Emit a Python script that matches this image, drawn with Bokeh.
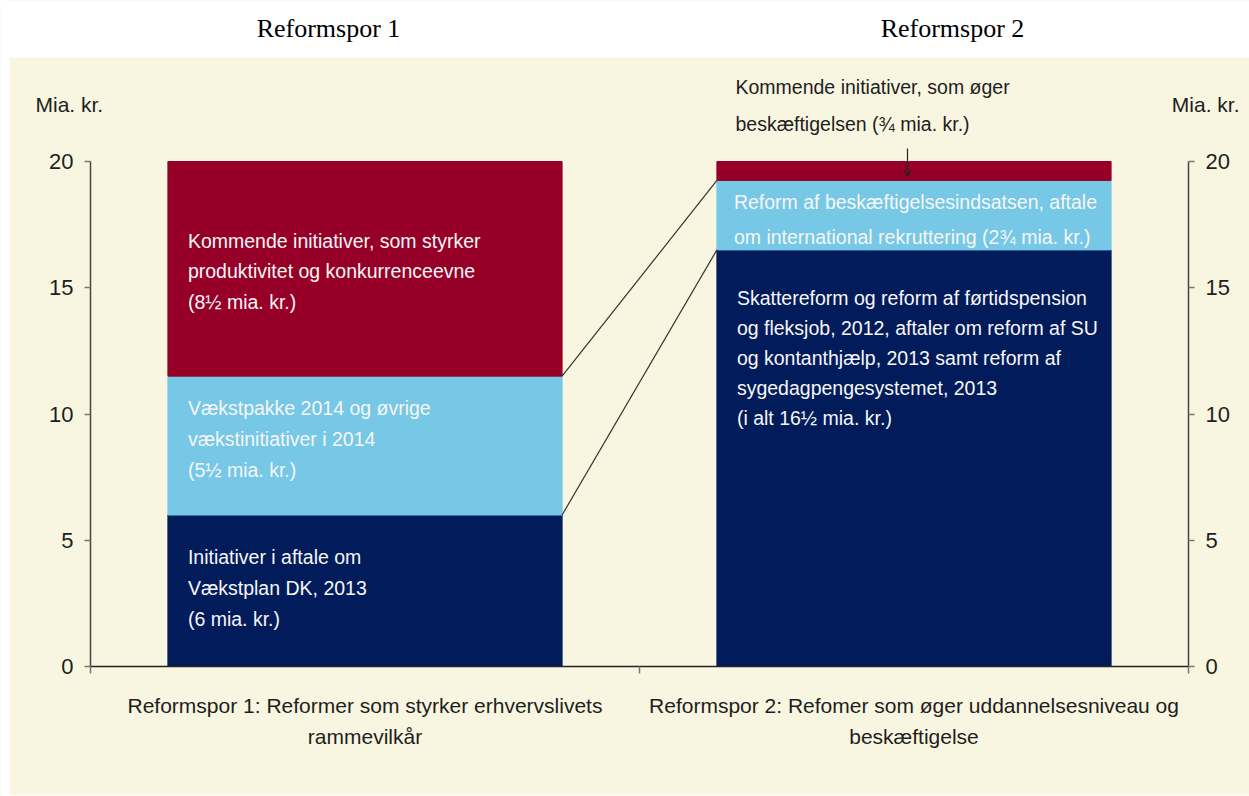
from bokeh.plotting import figure
from bokeh.models import (ColumnDataSource, FixedTicker, LinearAxis, Range1d,
                          Arrow, OpenHead, CustomJSTickFormatter)
from bokeh.embed import file_html
from bokeh.resources import INLINE
from bokeh.core.properties import value

# ---------------- data ----------------
titles = ["Reformspor 1", "Reformspor 2"]
categories = ["Reformspor 1: Reformer som styrker erhvervslivets\nrammevilkår",
              "Reformspor 2: Refomer som øger uddannelsesniveau og\nbeskæftigelse"]
# stacked segments, bottom -> top (mia. kr.)
spor1_values = [6.0, 5.5, 8.5]
spor2_values = [16.5, 2.75, 0.75]
spor1_texts = ["Initiativer i aftale om\nVækstplan DK, 2013\n(6 mia. kr.)",
               "Vækstpakke 2014 og øvrige\nvækstinitiativer i 2014\n(5½ mia. kr.)",
               "Kommende initiativer, som styrker\nproduktivitet og konkurrenceevne\n(8½ mia. kr.)"]
spor2_texts = ["Skattereform og reform af førtidspension\nog fleksjob, 2012, aftaler om reform af SU\n"
               "og kontanthjælp, 2013 samt reform af\nsygedagpengesystemet, 2013\n(i alt 16½ mia. kr.)",
               "Reform af beskæftigelsesindsatsen, aftale\nom international rekruttering (2¾ mia. kr.)",
               ""]
spor2_top_note = "Kommende initiativer, som øger\nbeskæftigelsen (¾ mia. kr.)"
y_ticks = [0, 5, 10, 15, 20]
unit_label = "Mia. kr."

# ---------------- style / geometry ----------------
NAVY, LIGHT, RED = "#021c5b", "#76c8e6", "#960028"
seg_colors = [NAVY, LIGHT, RED]
BEIGE = "#f8f6e0"
DARK = "#1e1e1e"
FONT = "Liberation Sans"
SERIF = "Liberation Serif"
BAR_W = 0.718
W, H = 1249, 796
PX_X = 549.0      # px per category unit
PX_Y = 25.25      # px per mia. kr.
AX_L, AX_R, AX_0, AX_20 = 90, 1188, 666, 161   # canvas pixel positions of the axes

x0 = -AX_L / PX_X
x1 = 2 + (W - AX_R) / PX_X
y0 = -(H - AX_0) / PX_Y
y1 = 20 + AX_20 / PX_Y

def ydat(py):          # canvas pixel row -> data value
    return (AX_0 - py) / PX_Y

def xdat(px):          # canvas pixel column -> data value
    return (px - AX_L) / PX_X

p = figure(width=W, height=H, x_range=Range1d(x0, x1), y_range=Range1d(y0, y1),
           x_axis_type=None, y_axis_type=None, min_border=0,
           background_fill_color=BEIGE, border_fill_color=BEIGE, outline_line_color=None,
           output_backend="svg", toolbar_location=None)

# white margins around the beige panel, with the two titles on top
p.quad(left=[x0, x0, x0], right=[x1, xdat(9), x1], bottom=[ydat(57), y0, y0],
       top=[y1, y1, ydat(795)], fill_color="white", line_color=None)
p.text(x=[xdat(328), xdat(952)], y=[ydat(28)] * 2, text=titles, text_font=value(SERIF),
       text_font_size="26px", text_color="black", text_align="center", text_baseline="middle")

# stacked bars
xs, bottoms, tops, cols = [], [], [], []
text_offsets = [[31, 21, 68], [37, 11, 0]]     # px below segment top
x_offsets = [[20, 20, 20], [20, 17, 17]]
line_heights = [[1.4, 1.4, 1.4], [1.37, 1.56, 1.4]]
for ci, (vals, texts) in enumerate([(spor1_values, spor1_texts), (spor2_values, spor2_texts)]):
    c = ci + 0.5
    b = 0.0
    for si, v in enumerate(vals):
        xs.append(c); bottoms.append(b); tops.append(b + v); cols.append(seg_colors[si])
        if texts[si]:
            p.text(x=[c - BAR_W / 2], y=[b + v], text=[texts[si]],
                   x_offset=x_offsets[ci][si], y_offset=text_offsets[ci][si],
                   text_font=value(FONT), text_font_size="19.5px", text_color="#f6f6f6",
                   text_baseline="top", text_align="left",
                   text_line_height=line_heights[ci][si], level="overlay")
        b += v

bars = ColumnDataSource(dict(x=xs, bottom=bottoms, top=tops, color=cols))
p.vbar(x="x", bottom="bottom", top="top", width=BAR_W, color="color", source=bars)

# connector lines between matching levels
c1 = [sum(spor1_values[:1]), sum(spor1_values[:2])]
c2 = [sum(spor2_values[:1]), sum(spor2_values[:2])]
p.segment(x0=[0.5 + BAR_W / 2] * 2, y0=c1, x1=[1.5 - BAR_W / 2] * 2, y1=c2,
          line_color="#333333", line_width=1.2)

# axes (drawn at fixed locations)
def yaxis(loc):
    return LinearAxis(ticker=FixedTicker(ticks=y_ticks, minor_ticks=[]), fixed_location=loc,
                      bounds=(0, 20),
                      axis_line_color="#444444", axis_line_width=1.5,
                      major_tick_line_color="#777777", major_tick_line_width=1.5,
                      major_tick_out=6, major_tick_in=0, minor_tick_out=0, minor_tick_in=0,
                      major_label_standoff=11, major_label_text_font=FONT,
                      major_label_text_font_size="22px", major_label_text_color=DARK)

p.add_layout(yaxis(0), "left")
p.add_layout(yaxis(2), "right")

xaxis = LinearAxis(ticker=FixedTicker(ticks=[0.5, 1.5], minor_ticks=[0, 1, 2]),
                   fixed_location=0, bounds=(0, 2),
                   formatter=CustomJSTickFormatter(args=dict(cats=categories),
                                                   code="return tick < 1 ? cats[0] : cats[1]"),
                   axis_line_color="#222222", axis_line_width=1.5,
                   major_tick_out=0, major_tick_in=0,
                   minor_tick_out=7, minor_tick_in=0, minor_tick_line_color="#777777",
                   minor_tick_line_width=1.5,
                   major_label_standoff=20, major_label_text_font=FONT,
                   major_label_text_font_size="21px", major_label_text_color=DARK,
                   major_label_text_line_height=1.37)
p.add_layout(xaxis, "below")

# unit labels
p.text(x=[xdat(35)], y=[ydat(104)], text=[unit_label], text_font=value(FONT),
       text_font_size="21px", text_color=DARK, text_baseline="middle", text_align="left")
p.text(x=[xdat(1239)], y=[ydat(104)], text=[unit_label], text_font=value(FONT),
       text_font_size="21px", text_color=DARK, text_baseline="middle", text_align="right")

# note above the right bar + arrow
p.text(x=[xdat(735)], y=[ydat(75)], text=[spor2_top_note], text_font=value(FONT),
       text_font_size="19.5px", text_color=DARK, text_baseline="top", text_align="left",
       text_line_height=1.7)
p.add_layout(Arrow(x_start=xdat(907), y_start=ydat(148), x_end=xdat(907), y_end=ydat(176),
                   line_color="#222222", line_width=1.2,
                   end=OpenHead(size=7, line_color="#222222", line_width=1.2)))

open("out.html", "w").write(file_html(p, INLINE))
